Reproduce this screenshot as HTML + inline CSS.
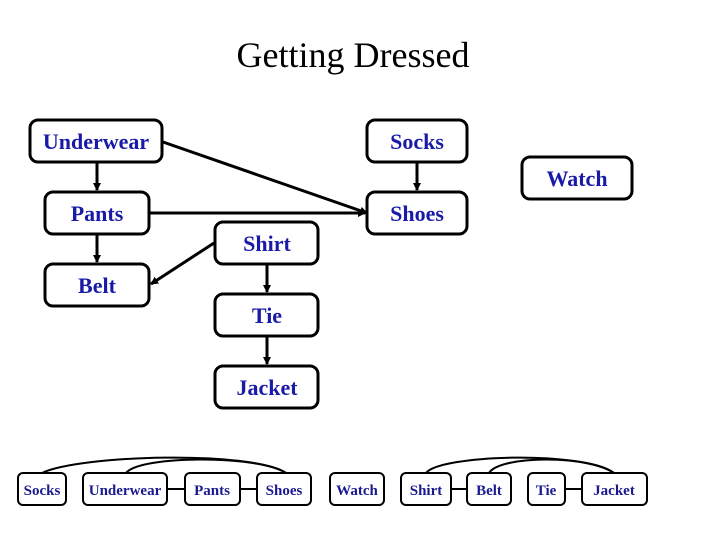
<!DOCTYPE html>
<html><head><style>
body{margin:0;background:#fff;width:720px;height:540px;overflow:hidden}
</style></head><body>
<svg width="720" height="540" xmlns="http://www.w3.org/2000/svg" font-family="Liberation Serif, serif">
<defs><marker id="a" markerWidth="8" markerHeight="8" refX="7" refY="4" orient="auto" markerUnits="userSpaceOnUse"><path d="M0,0 L8,4 L0,8z" fill="#000"/></marker></defs>
<text x="353" y="67" font-size="36" text-anchor="middle">Getting Dressed</text>
<g fill="#fff" stroke="#000" stroke-width="3">
<rect x="30" y="120" width="132" height="42" rx="8"/>
<rect x="45" y="192" width="104" height="42" rx="8"/>
<rect x="45" y="264" width="104" height="42" rx="8"/>
<rect x="215" y="222" width="103" height="42" rx="8"/>
<rect x="215" y="294" width="103" height="42" rx="8"/>
<rect x="215" y="366" width="103" height="42" rx="8"/>
<rect x="367" y="120" width="100" height="42" rx="8"/>
<rect x="367" y="192" width="100" height="42" rx="8"/>
<rect x="522" y="157" width="110" height="42" rx="8"/>
</g>
<g stroke="#000" stroke-width="3" fill="none">
<line x1="97" y1="162" x2="97" y2="190" marker-end="url(#a)"/>
<line x1="97" y1="234" x2="97" y2="262" marker-end="url(#a)"/>
<line x1="267" y1="264" x2="267" y2="292" marker-end="url(#a)"/>
<line x1="267" y1="336" x2="267" y2="364" marker-end="url(#a)"/>
<line x1="417" y1="162" x2="417" y2="190" marker-end="url(#a)"/>
<line x1="163" y1="142" x2="367" y2="213" marker-end="url(#a)"/>
<line x1="149" y1="213" x2="365" y2="213" marker-end="url(#a)"/>
<line x1="214" y1="243" x2="151" y2="284" marker-end="url(#a)"/>
</g>
<g font-size="22" font-weight="bold" fill="#1a1aa8" text-anchor="middle">
<text x="96" y="149">Underwear</text>
<text x="97" y="221">Pants</text>
<text x="97" y="293">Belt</text>
<text x="267" y="251">Shirt</text>
<text x="267" y="323">Tie</text>
<text x="267" y="395">Jacket</text>
<text x="417" y="149">Socks</text>
<text x="417" y="221">Shoes</text>
<text x="577" y="186">Watch</text>
</g>
<g fill="none" stroke="#000" stroke-width="2">
<path d="M42,473 C80,455 250,450 286,473"/>
<path d="M126,473 C140,455 260,455 286,473"/>
<path d="M426,473 C440,455 580,450 614,473"/>
<path d="M489,473 C500,455 590,455 614,473"/>
<line x1="167" y1="489" x2="185" y2="489"/>
<line x1="240" y1="489" x2="257" y2="489"/>
<line x1="451" y1="489" x2="467" y2="489"/>
<line x1="565" y1="489" x2="582" y2="489"/>
</g>
<g fill="#fff" stroke="#000" stroke-width="2">
<rect x="18" y="473" width="48" height="32" rx="5"/>
<rect x="83" y="473" width="84" height="32" rx="5"/>
<rect x="185" y="473" width="55" height="32" rx="5"/>
<rect x="257" y="473" width="54" height="32" rx="5"/>
<rect x="330" y="473" width="54" height="32" rx="5"/>
<rect x="401" y="473" width="50" height="32" rx="5"/>
<rect x="467" y="473" width="44" height="32" rx="5"/>
<rect x="528" y="473" width="37" height="32" rx="5"/>
<rect x="582" y="473" width="65" height="32" rx="5"/>
</g>
<g font-size="15" font-weight="bold" fill="#1a1a90" text-anchor="middle">
<text x="42" y="495">Socks</text>
<text x="125" y="495">Underwear</text>
<text x="212" y="495">Pants</text>
<text x="284" y="495">Shoes</text>
<text x="357" y="495">Watch</text>
<text x="426" y="495">Shirt</text>
<text x="489" y="495">Belt</text>
<text x="546" y="495">Tie</text>
<text x="614" y="495">Jacket</text>
</g>
</svg>
</body></html>
